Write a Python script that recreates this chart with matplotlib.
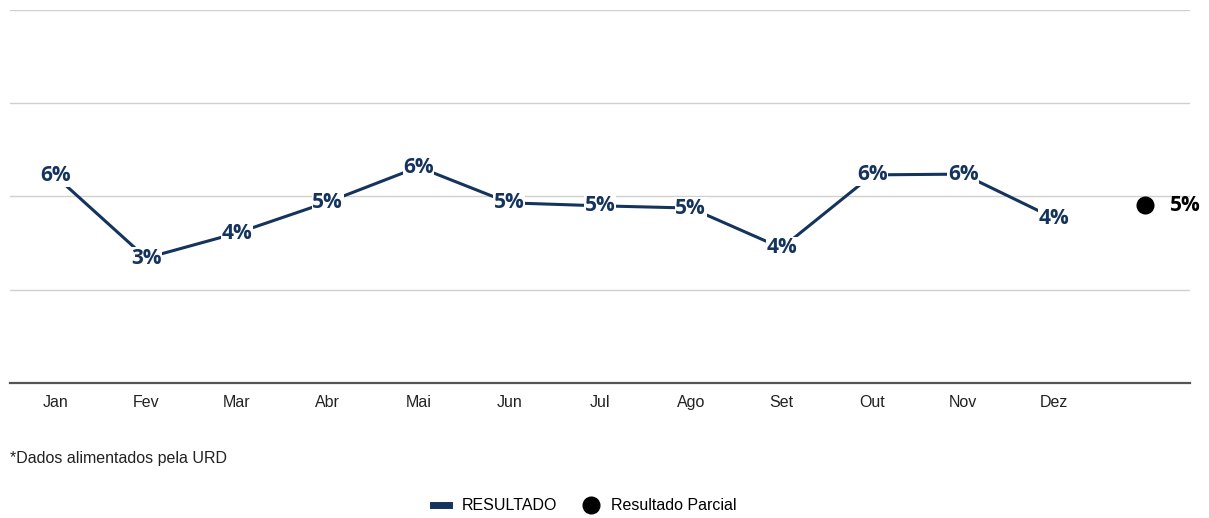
import matplotlib
matplotlib.use('Agg')
import matplotlib.pyplot as plt
from matplotlib.lines import Line2D

# monthly results (%)
months = ['Jan', 'Fev', 'Mar', 'Abr', 'Mai', 'Jun', 'Jul', 'Ago', 'Set', 'Out', 'Nov', 'Dez']
resultado = [5.55, 3.35, 4.02, 4.85, 5.79, 4.83, 4.75, 4.69, 3.62, 5.58, 5.60, 4.42]
parcial = 4.77
navy = '#14345e'

plt.rcParams['font.family'] = ['Liberation Sans Narrow', 'Liberation Sans', 'DejaVu Sans']

fig = plt.figure(figsize=(12.09, 5.18), dpi=100)
ax = fig.add_axes([10 / 1209, (518 - 383) / 518, 1180 / 1209, 373 / 518])

x = list(range(len(months)))
ax.plot(x, resultado, color=navy, lw=2.2, zorder=2)
for xi, v in zip(x, resultado):
    ax.text(xi, v, f'{v:.0f}%', ha='center', va='center', fontsize=15, fontweight='bold',
            color=navy, family=['Open Sans', 'DejaVu Sans'], zorder=3,
            bbox=dict(facecolor='white', edgecolor='none', pad=0.5))

px = len(months)
ax.plot([px], [parcial], 'o', color='black', markersize=12, zorder=3)
ax.text(px + 0.28, parcial, f'{parcial:.0f}%', ha='left', va='center', fontsize=15,
        fontweight='bold', color='black', family=['Open Sans', 'DejaVu Sans'])

ax.set_xlim(-0.5, len(months) + 0.5)
ax.set_ylim(0, 10)
ax.set_yticks([0, 2.5, 5, 7.5, 10])
ax.yaxis.grid(True, color='#d0d0d0', lw=1)
ax.set_axisbelow(True)
ax.tick_params(axis='y', left=False, labelleft=False)
ax.set_xticks(x)
ax.set_xticklabels(months, fontsize=11.5, color='#222222', va='baseline')
ax.tick_params(axis='x', length=0, pad=17)
for s in ['top', 'left', 'right']:
    ax.spines[s].set_visible(False)
ax.spines['bottom'].set_color('#555555')
ax.spines['bottom'].set_linewidth(1.6)

fig.text(10 / 1209, (518 - 459) / 518, '*Dados alimentados pela URD', fontsize=11.5,
         color='#222222', va='center')

handles = [Line2D([], [], color=navy, lw=5),
           Line2D([], [], marker='o', color='black', markersize=12, linestyle='none')]
fig.legend(handles, ['RESULTADO', 'Resultado Parcial'], loc='center', ncol=2,
           bbox_to_anchor=(585 / 1209, (518 - 506) / 518), frameon=False, fontsize=11.5,
           handlelength=1.0, columnspacing=1.6, handletextpad=0.8)

fig.savefig('out.png', dpi=100)
